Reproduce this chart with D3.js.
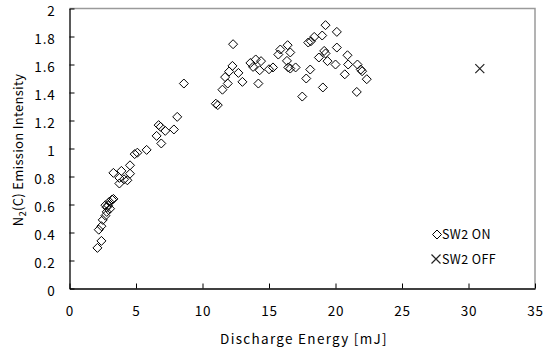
<!DOCTYPE html>
<html><head><meta charset="utf-8">
<script src="https://cdn.jsdelivr.net/npm/d3@7"></script>
<style>body{margin:0;background:#fff}svg{display:block}text{font-family:"Noto Sans CJK JP","Liberation Sans",sans-serif;fill:#000}</style>
</head><body>
<script>
const xTicks = [0,5,10,15,20,25,30,35];
const yTicks = [0,0.2,0.4,0.6,0.8,1,1.2,1.4,1.6,1.8,2];
const onX = [2.1,2.4,2.2,2.4,2.5,2.7,2.8,2.8,2.9,3.0,3.2,3.3,3.05,2.7,3.3,3.9,3.75,3.75,4.1,4.35,4.55,4.55,4.9,5.1,5.8,6.55,6.7,6.85,6.9,7.2,7.85,8.1,8.6,11.0,11.15,11.5,11.7,11.9,12.0,12.25,12.3,12.7,13.0,13.6,14.0,13.8,14.4,14.3,14.2,15.0,15.3,15.85,15.7,16.4,16.6,16.35,16.45,16.6,17.0,17.95,18.15,18.4,19.0,19.25,20.1,18.1,17.8,17.5,18.75,19.15,19.25,19.4,19.05,20.0,20.1,20.9,20.95,20.7,21.65,21.9,22.0,22.35,21.6];
const onY = [0.29,0.34,0.42,0.445,0.49,0.52,0.547,0.58,0.595,0.62,0.635,0.64,0.57,0.595,0.826,0.84,0.79,0.75,0.78,0.773,0.82,0.88,0.96,0.97,0.99,1.09,1.167,1.155,1.036,1.126,1.136,1.226,1.464,1.32,1.31,1.42,1.51,1.464,1.55,1.59,1.745,1.54,1.476,1.611,1.636,1.583,1.624,1.559,1.464,1.566,1.579,1.707,1.671,1.738,1.686,1.626,1.579,1.571,1.579,1.757,1.766,1.797,1.807,1.881,1.833,1.564,1.5,1.371,1.65,1.697,1.679,1.624,1.436,1.6,1.721,1.666,1.6,1.53,1.6,1.564,1.552,1.495,1.404];
const offX = [30.85];
const offY = [1.571];
const legendLabels = ["SW2 ON","SW2 OFF"];

const W=549,H=349;
const svg=d3.select("body").append("svg").attr("width",W).attr("height",H);
const x=d3.scaleLinear().domain([0,35]).range([69.5,535]);
const y=d3.scaleLinear().domain([0,2]).range([288.5,8.5]);

svg.append("path").attr("d",`M${x(0)},${y(2)}H${x(35)}V${y(0)}`).attr("fill","none").attr("stroke","#9a9a9a").attr("stroke-width",1.5);

const xa=svg.append("g").attr("transform",`translate(0,${y(0)})`)
  .call(d3.axisBottom(x).tickValues(xTicks).tickSizeInner(-5).tickSizeOuter(0).tickPadding(18).tickFormat(d3.format("d")));
const ya=svg.append("g").attr("transform",`translate(${x(0)},0)`)
  .call(d3.axisLeft(y).tickValues(yTicks).tickSizeInner(-5).tickSizeOuter(0).tickPadding(14).tickFormat(d=>String(d)));
[xa,ya].forEach(g=>{g.select(".domain").attr("stroke","#000").attr("stroke-width",1.3);
 g.selectAll(".tick line").attr("stroke","#000");
 g.selectAll("text").attr("font-size",13.5).attr("font-family",'"Noto Sans CJK JP",sans-serif').attr("fill","#000").attr("letter-spacing",0.8);});
ya.selectAll("text").attr("dy","0.55em");

svg.append("text").attr("x",304).attr("y",344).attr("text-anchor","middle").attr("font-size",13.5).attr("letter-spacing",1.3).text("Discharge Energy [mJ]");
const yt=svg.append("text").attr("transform","translate(23,150) rotate(-90)").attr("text-anchor","middle").attr("font-size",13).attr("letter-spacing",0.3);
yt.append("tspan").text("N");
yt.append("tspan").attr("font-size",9.5).attr("dy",3).text("2");
yt.append("tspan").attr("dy",-3).text("(C) Emission Intensity");

const sq=(px,py)=>`M${px},${py-4.5}L${px+4.5},${py}L${px},${py+4.5}L${px-4.5},${py}Z`;
svg.append("g").selectAll("path").data(onX.map((v,i)=>[v,onY[i]])).join("path")
  .attr("d",d=>sq(x(d[0]),y(d[1]))).attr("fill","none").attr("stroke","#000").attr("stroke-width",1);
const cross=(px,py,r)=>`M${px-r},${py-r}L${px+r},${py+r}M${px-r},${py+r}L${px+r},${py-r}`;
svg.append("g").selectAll("path").data(offX.map((v,i)=>[v,offY[i]])).join("path")
  .attr("d",d=>cross(x(d[0]),y(d[1]),4.5)).attr("fill","none").attr("stroke","#222").attr("stroke-width",1.2);

const lg=svg.append("g");
lg.append("path").attr("d",sq(437,234.5)).attr("fill","none").attr("stroke","#000");
lg.append("path").attr("d",cross(436,259,4.5)).attr("fill","none").attr("stroke","#222").attr("stroke-width",1.2);
lg.selectAll("text").data(legendLabels).join("text").attr("x",442).attr("y",(d,i)=>239+i*24.5).attr("font-size",12.5).attr("letter-spacing",0.4).attr("font-family",'"Liberation Sans",sans-serif').text(d=>d);
</script>
</body></html>
